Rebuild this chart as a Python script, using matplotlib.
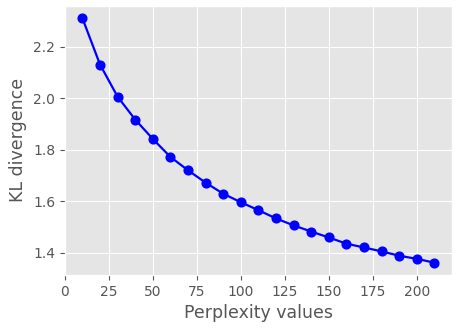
import matplotlib
matplotlib.use("Agg")
import matplotlib.pyplot as plt

perplexity = [10, 20, 30, 40, 50, 60, 70, 80, 90, 100, 110,
              120, 130, 140, 150, 160, 170, 180, 190, 200, 210]
kl_div = [2.311, 2.131, 2.006, 1.917, 1.842, 1.772, 1.720, 1.672, 1.629, 1.596, 1.565,
          1.533, 1.506, 1.482, 1.459, 1.435, 1.420, 1.405, 1.388, 1.376, 1.361]

plt.style.use("ggplot")
fig = plt.figure(figsize=(4.63, 3.32), dpi=100)
ax = fig.add_axes([0.140, 0.172, 0.836, 0.810])
ax.plot(perplexity, kl_div, "o-", color="blue", linewidth=1.6, markersize=6.3)
ax.set_xlabel("Perplexity values", fontsize=12.5)
ax.set_ylabel("KL divergence", fontsize=12.5)
ax.tick_params(labelsize=10)

fig.savefig("out.png", dpi=100)
